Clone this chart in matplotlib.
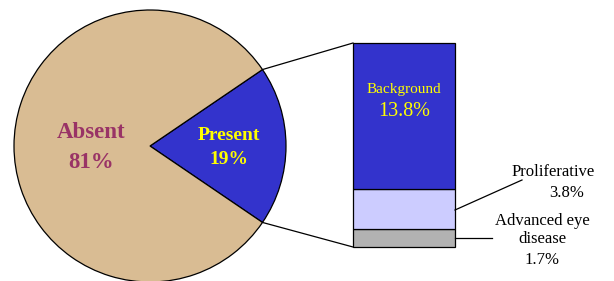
import numpy as np
import matplotlib
matplotlib.use("Agg")
import matplotlib.pyplot as plt

# pie data
pie_labels = ["Present", "Absent"]
pie_values = [19, 81]
pie_colors = ["#3333CC", "#D9BC93"]

# breakdown of "Present"
bar_labels = ["Advanced eye\ndisease", "Proliferative", "Background"]
bar_values = [1.7, 3.8, 13.8]
bar_colors = ["#B2B2B2", "#CCCCFF", "#3333CC"]

W, H = 614, 281
fig = plt.figure(figsize=(W / 100, H / 100), dpi=100)
ax = fig.add_axes([0, 0, 1, 1])

cx, cy, R = 150, 135, 136
half = pie_values[0] / sum(pie_values) * 180
ax.pie(pie_values, colors=pie_colors, startangle=-half, center=(cx, cy), radius=R,
       wedgeprops=dict(edgecolor="black", linewidth=0.9))

serif = ["Liberation Serif", "DejaVu Serif"]
ax.text(91, H - 132, pie_labels[1], ha="center", va="center", color="#993366",
        fontsize=16.5, fontweight="bold", family=serif)
ax.text(91, H - 162, f"{pie_values[1]}%", ha="center", va="center", color="#993366",
        fontsize=16.5, fontweight="bold", family=serif)
ax.text(229, H - 136, pie_labels[0], ha="center", va="center", color="#FFFF00",
        fontsize=14, fontweight="bold", family=serif)
ax.text(229, H - 160, f"{pie_values[0]}%", ha="center", va="center", color="#FFFF00",
        fontsize=14, fontweight="bold", family=serif)

# stacked bar
bx, bw = 404, 102
bot_px, top_px = 34, 238
scale = (top_px - bot_px) / sum(bar_values)
bottom = bot_px
for v, c in zip(bar_values, bar_colors):
    ax.bar(bx, v * scale, width=bw, bottom=bottom, color=c, edgecolor="black", linewidth=0.9)
    bottom += v * scale

# connector lines pie -> bar
a = np.deg2rad(half)
ax.plot([cx + R * np.cos(a), bx - bw / 2], [cy + R * np.sin(a), top_px], color="black", lw=0.9)
ax.plot([cx + R * np.cos(a), bx - bw / 2], [cy - R * np.sin(a), bot_px], color="black", lw=0.9)

ax.text(bx, H - 89, bar_labels[2], ha="center", va="center", color="#FFFF00",
        fontsize=11, family=serif)
ax.text(bx, H - 112, f"{bar_values[2]}%", ha="center", va="center", color="#FFFF00",
        fontsize=14.5, family=serif)

ax.text(553, H - 172, bar_labels[1], ha="center", va="center", color="black",
        fontsize=12, family=serif)
ax.text(567, H - 193, f"{bar_values[1]}%", ha="center", va="center", color="black",
        fontsize=12, family=serif)
ax.plot([bx + bw / 2, 522], [H - 210, H - 180], color="black", lw=0.9)

ax.text(542, H - 230, bar_labels[0], ha="center", va="center", color="black",
        fontsize=12, family=serif, linespacing=1.2)
ax.text(542, H - 260, f"{bar_values[0]}%", ha="center", va="center", color="black",
        fontsize=12, family=serif)
ax.plot([bx + bw / 2, 492], [H - 238, H - 238], color="black", lw=0.9)

ax.set_xlim(0, W)
ax.set_ylim(0, H)
ax.axis("off")
fig.savefig("out.png", dpi=100)
